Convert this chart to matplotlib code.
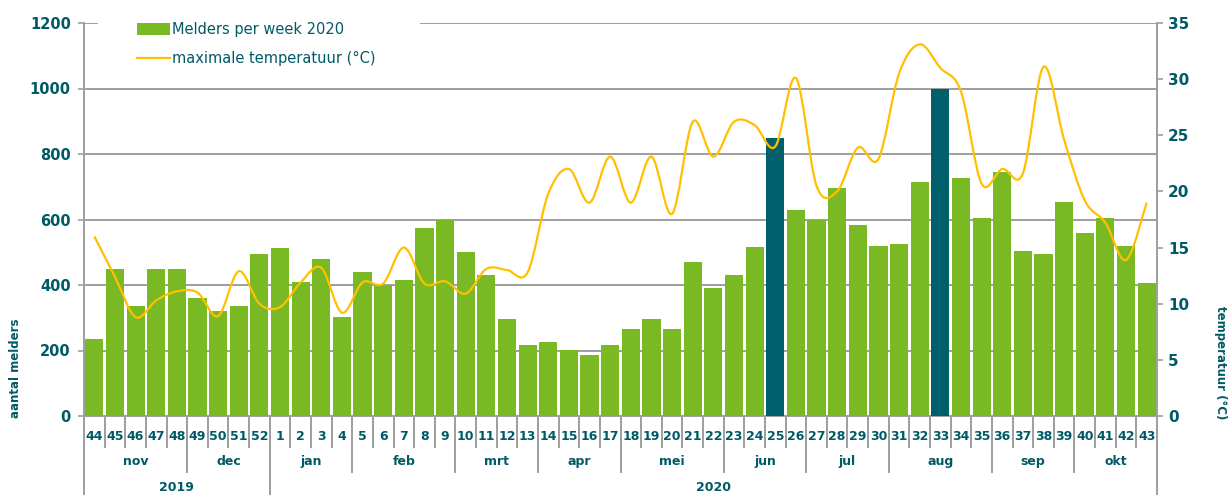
import numpy as np
import matplotlib
matplotlib.use("Agg")
import matplotlib.pyplot as plt
from matplotlib.path import Path
from matplotlib.patches import PathPatch, Patch, Rectangle
from matplotlib.lines import Line2D
from matplotlib.transforms import blended_transform_factory

# Week numbers: end of 2019 followed by 2020
weeks = ["44", "45", "46", "47", "48", "49", "50", "51", "52"] + [str(w) for w in range(1, 44)]

# Number of reporters per week
melders = [235, 450, 335, 450, 450, 360, 320, 335, 495, 513, 410, 480, 302, 440,
           400, 415, 574, 598, 500, 430, 296, 217, 226, 202, 186, 217, 266, 296,
           266, 470, 391, 430, 516, 848, 630, 600, 695, 582, 518, 526, 713, 1000,
           728, 604, 746, 504, 495, 652, 558, 604, 518, 406]

# Maximum temperature per week (°C)
temperatuur = [16.0, 12.4, 8.8, 10.3, 11.1, 11.0, 8.9, 12.9, 10.0, 9.7, 11.9, 13.2,
               9.2, 11.9, 11.8, 15.0, 11.8, 12.0, 10.9, 13.1, 13.0, 12.8, 19.8, 22.0,
               19.0, 23.1, 19.0, 23.1, 18.0, 26.2, 23.1, 26.2, 25.9, 24.0, 30.1, 20.5,
               20.0, 23.9, 22.9, 30.5, 33.1, 31.0, 28.9, 20.7, 22.0, 21.6, 31.1, 24.6,
               19.2, 17.2, 13.9, 19.0]

# Weeks drawn in the dark colour
highlight = ["25", "33"]

months = ["nov", "dec", "jan", "feb", "mrt", "apr", "mei", "jun", "jul", "aug", "sep", "okt"]
month_weeks = [5, 4, 4, 5, 4, 4, 5, 4, 4, 5, 4, 4]
years = ["2019", "2020"]
year_weeks = [9, 43]

TEXT = "#005A66"
GREEN = "#79B924"
DARK = "#005F6B"
LINE = "#FFC000"
GRID = "#9E9E9E"

fig = plt.figure(figsize=(12.29, 4.95), dpi=100)
ax = fig.add_axes([84 / 1229, 1 - 416 / 495, (1157 - 84) / 1229, (416 - 23) / 495])
ax2 = ax.twinx()

x = np.arange(len(weeks))
colors = [DARK if w in highlight else GREEN for w in weeks]
ax.bar(x, melders, width=0.88, color=colors, zorder=2)

ax.set_xlim(-0.5, len(weeks) - 0.5)
ax.set_ylim(0, 1200)
ax.set_yticks(range(0, 1201, 200))
ax.set_axisbelow(True)
ax.yaxis.grid(True, color=GRID, linewidth=1.4)
ax.set_xticks([])

ax2.set_ylim(0, 35)
ax2.set_yticks(range(0, 36, 5))

for a in (ax, ax2):
    for s in a.spines.values():
        s.set_visible(False)
ax.tick_params(axis="y", direction="out", length=4.5, width=1.2, color=GRID,
               labelcolor=TEXT, labelsize=10.5, pad=5.0)
ax2.tick_params(axis="y", direction="out", length=4.5, width=1.2, color=GRID,
                labelcolor=TEXT, labelsize=11, pad=3.5)
for lab in ax.get_yticklabels() + ax2.get_yticklabels():
    lab.set_fontweight("bold")

# Smoothed temperature curve (cubic Bezier segments through the weekly points)
t = np.array(temperatuur, dtype=float)
pts = np.column_stack([x, t])
ext = np.vstack([pts[0], pts, pts[-1]])
verts = [tuple(pts[0])]
codes = [Path.MOVETO]
for i in range(len(pts) - 1):
    p0, p1, p2, p3 = ext[i], ext[i + 1], ext[i + 2], ext[i + 3]
    c1 = p1 + (p2 - p0) / 6.0
    c2 = p2 - (p3 - p1) / 6.0
    verts += [tuple(c1), tuple(c2), tuple(p2)]
    codes += [Path.CURVE4] * 3
ax2.add_patch(PathPatch(Path(verts, codes), facecolor="none", edgecolor=LINE,
                        linewidth=1.6, zorder=3))

# Multi-level category axis
tr = blended_transform_factory(ax.transData, ax.transAxes)
ln = dict(color=GRID, linewidth=1.4, clip_on=False, transform=tr, zorder=1)
week_len, month_len, year_len = -0.079, -0.142, -0.21
month_bounds = np.cumsum([0] + month_weeks)
year_bounds = np.cumsum([0] + year_weeks)
for b in range(len(weeks) + 1):
    xb = b - 0.5
    if b in year_bounds:
        y0 = year_len
    elif b in month_bounds:
        y0 = month_len
    else:
        y0 = week_len
    top = 1.0 if b in (0, len(weeks)) else 0.0
    ax.plot([xb, xb], [top, y0], **ln)
ax.plot([-0.5, len(weeks) - 0.5], [0, 0], **ln)

for i, w in enumerate(weeks):
    ax.text(i, -0.051, w, transform=tr, ha="center", va="center",
            fontsize=9, fontweight="bold", color=TEXT, clip_on=False)
for m, a0, a1 in zip(months, month_bounds[:-1], month_bounds[1:]):
    ax.text((a0 + a1 - 1) / 2, -0.117, m, transform=tr, ha="center", va="center",
            fontsize=9, fontweight="bold", color=TEXT, clip_on=False)
for yname, a0, a1 in zip(years, year_bounds[:-1], year_bounds[1:]):
    ax.text((a0 + a1 - 1) / 2, -0.183, yname, transform=tr, ha="center", va="center",
            fontsize=9, fontweight="bold", color=TEXT, clip_on=False)

fig.text(16 / 1229, 1 - 368 / 495, "aantal melders", rotation=90, ha="center",
         va="center", fontsize=8.5, fontweight="bold", color=TEXT)
fig.text(1220 / 1229, 1 - 363 / 495, "temperatuur (°C)", rotation=270, ha="center",
         va="center", fontsize=8.5, fontweight="bold", color=TEXT)

# White backing behind the legend (hides the top gridline there)
ax2.add_patch(Rectangle((0.013, 0.90), 0.30, 0.12, transform=ax2.transAxes,
                        facecolor="white", edgecolor="none", clip_on=False, zorder=9))

handles = [Patch(facecolor=GREEN, edgecolor="none"),
           Line2D([], [], color=LINE, linewidth=1.6)]
leg = ax2.legend(handles, ["Melders per week 2020", "maximale temperatuur (°C)"],
                 loc="upper left", bbox_to_anchor=(0.049, 1.003), frameon=False,
                 fontsize=10.5, handlelength=2.3, handleheight=0.85, handletextpad=0.1,
                 labelspacing=1.0, borderpad=0, borderaxespad=0)
for txt in leg.get_texts():
    txt.set_color(TEXT)
leg.set_zorder(10)

fig.savefig("out.png", dpi=100)
